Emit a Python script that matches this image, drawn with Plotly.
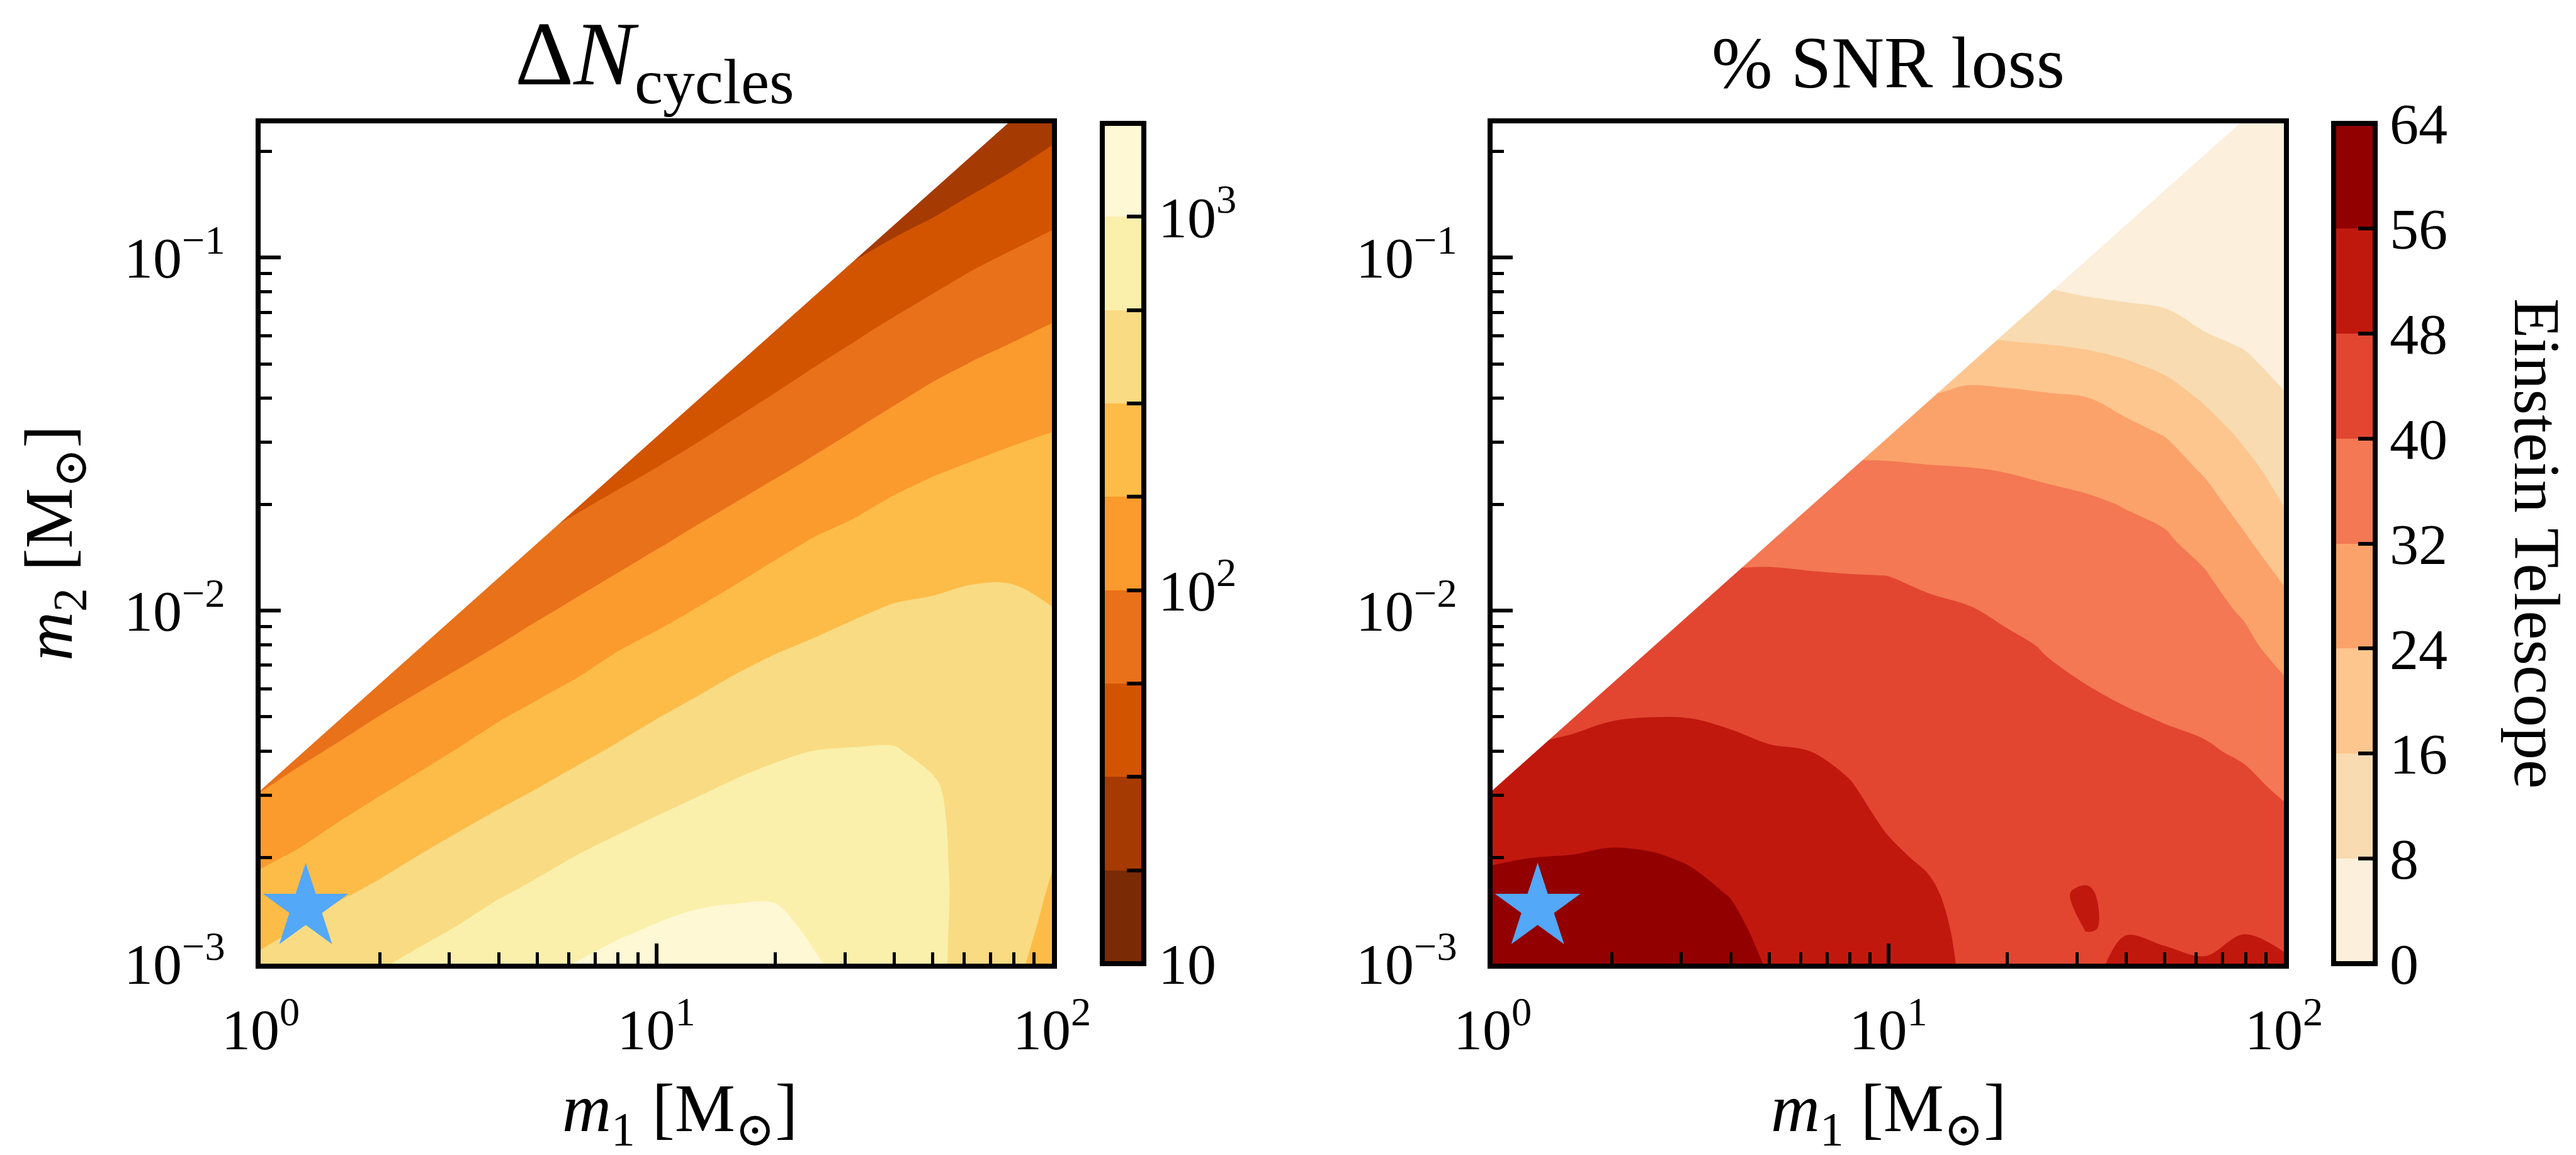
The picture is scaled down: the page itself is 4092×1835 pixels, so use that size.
import numpy as np
import plotly.graph_objects as go

# ---------------------------------------------------------------- data
# scan grid in log10 of the component masses [M_sun]
log_m1 = [0.0, 0.1, 0.2, 0.3, 0.4, 0.5, 0.6, 0.7, 0.8, 0.9, 1.0,
          1.1, 1.2, 1.3, 1.4, 1.5, 1.6, 1.7, 1.8, 1.9, 2.0]
log_m2 = [-3.0, -2.9, -2.8, -2.7, -2.6, -2.5, -2.4, -2.3, -2.2, -2.1, -2.0,
          -1.9, -1.8, -1.7, -1.6, -1.5, -1.4, -1.3, -1.2, -1.1, -1.0,
          -0.9, -0.8, -0.7, -0.6]

# log10(Delta N_cycles): one list per m1 column, starting at m2 = 1e-3
log_dn_cycles = [
    [2.542, 2.434, 2.326, 2.215, 2.100, 1.985, 1.870],
    [2.623, 2.509, 2.395, 2.282, 2.172, 2.065, 1.957, 1.849],
    [2.697, 2.586, 2.476, 2.365, 2.254, 2.144, 2.033, 1.923, 1.812],
    [2.731, 2.635, 2.540, 2.437, 2.330, 2.222, 2.112, 2.002, 1.893, 1.783],
    [2.794, 2.698, 2.603, 2.508, 2.402, 2.296, 2.187, 2.076, 1.966, 1.855, 1.745],
    [2.849, 2.759, 2.665, 2.571, 2.474, 2.368, 2.263, 2.151, 2.039, 1.927, 1.815, 1.703],
    [2.914, 2.830, 2.732, 2.634, 2.536, 2.437, 2.336, 2.234, 2.118, 2.002, 1.887, 1.771, 1.655],
    [2.957, 2.873, 2.790, 2.698, 2.597, 2.497, 2.399, 2.300, 2.194, 2.079, 1.968, 1.864, 1.760, 1.656],
    [3.006, 2.923, 2.841, 2.758, 2.660, 2.561, 2.461, 2.360, 2.260, 2.151, 2.041, 1.934, 1.829, 1.724, 1.619],
    [3.053, 2.972, 2.889, 2.806, 2.718, 2.621, 2.524, 2.428, 2.332, 2.233, 2.119, 2.006, 1.899, 1.793, 1.687, 1.582],
    [3.086, 3.012, 2.930, 2.848, 2.766, 2.677, 2.585, 2.493, 2.394, 2.295, 2.189, 2.079, 1.970, 1.863, 1.755, 1.648, 1.541],
    [3.108, 3.041, 2.964, 2.886, 2.807, 2.726, 2.639, 2.551, 2.458, 2.357, 2.257, 2.150, 2.043, 1.936, 1.828, 1.721, 1.614, 1.507],
    [3.119, 3.049, 2.979, 2.909, 2.839, 2.769, 2.688, 2.603, 2.519, 2.423, 2.324, 2.223, 2.115, 2.007, 1.902, 1.797, 1.692, 1.588, 1.483],
    [3.111, 3.046, 2.981, 2.920, 2.858, 2.796, 2.729, 2.647, 2.564, 2.480, 2.387, 2.294, 2.191, 2.080, 1.971, 1.869, 1.767, 1.665, 1.563, 1.461],
    [3.017, 2.971, 2.927, 2.884, 2.840, 2.797, 2.753, 2.678, 2.599, 2.520, 2.435, 2.347, 2.260, 2.152, 2.042, 1.938, 1.839, 1.740, 1.636, 1.532, 1.428],
    [2.940, 2.920, 2.890, 2.860, 2.830, 2.800, 2.758, 2.697, 2.626, 2.555, 2.481, 2.394, 2.307, 2.214, 2.112, 2.010, 1.911, 1.812, 1.710, 1.605, 1.490, 1.395],
    [2.880, 2.870, 2.850, 2.830, 2.810, 2.790, 2.760, 2.702, 2.640, 2.578, 2.516, 2.439, 2.357, 2.275, 2.180, 2.080, 1.980, 1.882, 1.784, 1.676, 1.563, 1.450, 1.337],
    [2.800, 2.800, 2.800, 2.790, 2.780, 2.765, 2.721, 2.672, 2.624, 2.575, 2.526, 2.465, 2.389, 2.313, 2.234, 2.140, 2.047, 1.950, 1.851, 1.748, 1.631, 1.515, 1.404, 1.288],
    [2.660, 2.670, 2.680, 2.685, 2.690, 2.685, 2.670, 2.650, 2.620, 2.580, 2.540, 2.486, 2.414, 2.342, 2.270, 2.186, 2.096, 2.007, 1.912, 1.816, 1.713, 1.595, 1.476, 1.356, 1.236],
    [2.530, 2.560, 2.580, 2.590, 2.600, 2.600, 2.600, 2.590, 2.575, 2.555, 2.530, 2.490, 2.426, 2.361, 2.297, 2.226, 2.140, 2.053, 1.964, 1.868, 1.773, 1.664, 1.551, 1.438, 1.325],
    [2.440, 2.460, 2.485, 2.510, 2.525, 2.530, 2.535, 2.535, 2.530, 2.520, 2.505, 2.462, 2.410, 2.358, 2.306, 2.254, 2.175, 2.094, 2.013, 1.920, 1.825, 1.728, 1.623, 1.519, 1.414],
]

# SNR loss [%] for the Einstein Telescope, same layout
snr_loss_pct = [
    [60.5, 59.0, 57.5, 55.6, 52.6, 49.6, 46.6],
    [61.0, 59.5, 58.0, 56.0, 53.5, 51.0, 48.5, 46.0],
    [61.5, 60.0, 58.3, 56.2, 53.8, 51.4, 49.0, 47.0, 45.4],
    [61.5, 60.0, 58.2, 56.6, 54.5, 52.2, 49.9, 47.7, 46.0, 44.3],
    [61.0, 59.6, 58.0, 56.4, 54.1, 52.0, 49.9, 47.96, 46.2, 44.4, 42.6],
    [60.0, 58.6, 57.2, 55.6, 53.6, 51.7, 49.8, 47.9, 46.1, 44.3, 42.5, 40.7],
    [58.4, 57.2, 55.8, 54.0, 52.2, 50.5, 48.9, 47.5, 45.7, 43.9, 42.1, 40.4, 38.6],
    [55.5, 54.5, 53.3, 52.0, 50.6, 49.3, 48.3, 46.9, 45.3, 43.6, 42.0, 40.4, 38.7, 37.0],
    [54.0, 53.0, 51.9, 50.7, 49.6, 48.6, 48.05, 46.5, 44.9, 43.4, 41.9, 40.3, 38.0, 35.4, 32.8],
    [52.4, 51.5, 50.6, 49.7, 48.9, 48.3, 47.1, 45.7, 44.3, 42.9, 41.5, 40.1, 37.7, 35.2, 32.7, 30.2],
    [50.2, 49.6, 49.0, 48.5, 47.7, 46.6, 45.5, 44.4, 43.3, 42.2, 41.1, 39.97, 37.5, 35.1, 32.6, 30.1, 27.0],
    [49.2, 48.9, 48.5, 47.6, 46.6, 45.6, 44.6, 43.6, 42.7, 41.7, 40.7, 39.3, 37.1, 34.8, 32.5, 28.8, 24.6, 20.5],
    [47.5, 47.3, 46.8, 46.0, 45.2, 44.4, 43.6, 42.8, 42.0, 41.1, 40.3, 38.4, 36.3, 34.3, 32.2, 29.0, 25.8, 21.1, 14.7],
    [46.0, 45.8, 45.4, 44.8, 44.1, 43.5, 42.8, 42.1, 41.4, 40.7, 39.3, 37.4, 35.6, 33.7, 31.8, 28.7, 25.6, 20.4, 13.5, 7.5],
    [44.6, 44.8, 46.5, 44.0, 43.4, 42.7, 42.0, 41.3, 40.6, 39.75, 38.1, 36.5, 34.9, 33.2, 31.2, 28.1, 25.0, 19.3, 13.2, 8.6, 3.0],
    [46.0, 48.2, 49.0, 44.5, 43.6, 42.8, 42.0, 41.2, 39.9, 38.5, 37.0, 35.6, 34.2, 32.7, 30.5, 27.4, 24.3, 18.3, 12.4, 7.5, 4.5, 3.5],
    [50.0, 47.5, 44.5, 43.5, 42.5, 41.7, 40.9, 40.4, 39.0, 37.6, 36.2, 34.8, 33.3, 31.8, 28.8, 25.8, 22.0, 16.6, 11.6, 6.7, 4.2, 3.2, 2.5],
    [49.5, 46.5, 44.5, 43.3, 42.4, 41.7, 41.1, 39.7, 38.3, 36.9, 35.5, 34.1, 32.7, 30.4, 27.1, 23.7, 19.0, 14.5, 10.3, 6.2, 4.0, 3.0, 2.4, 2.0],
    [48.6, 45.8, 44.3, 43.2, 42.4, 41.6, 40.6, 38.9, 37.3, 35.7, 34.1, 32.5, 29.8, 26.6, 23.2, 19.2, 15.3, 11.4, 7.6, 5.0, 3.8, 3.0, 2.4, 2.0, 1.7],
    [50.0, 47.6, 45.5, 43.9, 42.7, 41.3, 39.3, 37.4, 35.5, 33.5, 31.3, 28.1, 24.8, 21.4, 18.0, 14.8, 11.8, 8.9, 6.5, 5.0, 4.0, 3.3, 2.7, 2.2, 1.8],
    [49.0, 46.0, 44.6, 43.5, 41.3, 39.1, 36.9, 34.7, 32.5, 29.5, 26.3, 23.0, 19.4, 15.8, 13.3, 10.9, 8.5, 6.4, 5.2, 4.4, 3.8, 3.2, 2.7, 2.3, 2.0],
]

# the scanned region is bounded by m2 / m1 <= Q_MAX
Q_MAX = 3.1e-3

# reference binary marked with a star
star_m1 = [1.3]
star_m2 = [1.44e-3]

# contour levels and band colours (lowest band first)
dn_levels = dict(start=1.0, end=3.25, size=0.25)
dn_colors = ["#7A2B05", "#A63A03", "#D25400", "#E8711A", "#FB9A2D",
             "#FDBC48", "#F8DB83", "#FAF0AB", "#FFF8D4"]
dn_tickvals = [1.0, 1.25, 1.5, 1.75, 2.0, 2.25, 2.5, 2.75, 3.0, 3.25]
dn_ticktext = ["10", "", "", "", "10<sup>2</sup>", "", "", "", "10<sup>3</sup>", ""]

snr_levels = dict(start=0, end=64, size=8)
snr_colors = ["#FCEFDB", "#F8DBB0", "#FDC68F", "#FBA26A", "#F37853",
              "#E24631", "#C1180E", "#920000"]
snr_tickvals = [0, 8, 16, 24, 32, 40, 48, 56, 64]
snr_ticktext = ["0", "8", "16", "24", "32", "40", "48", "56", "64"]

x_tickvals = [1, 10, 100]
x_ticktext = ["10<sup>0</sup>", "10<sup>1</sup>", "10<sup>2</sup>"]
y_tickvals = [1e-3, 1e-2, 1e-1]
y_ticktext = ["10<sup>\u22123</sup>", "10<sup>\u22122</sup>", "10<sup>\u22121</sup>"]

# ---------------------------------------------------------------- helpers
W, H = 4092, 1835
FONT = "Liberation Serif, DejaVu Serif, serif"
TICK_SIZE = 92


def to_grid(columns, n_rows):
    """columns (one per m1) -> z[row][col], unscanned cells left empty"""
    return [[col[j] if j < len(col) else None for col in columns]
            for j in range(n_rows)]


def contour_scale(colors):
    """piecewise-constant colorscale so that each contour band gets its colour"""
    nc = len(colors) + 1
    edges = [0.0] + [(k + 1.5) / nc for k in range(len(colors) - 1)] + [1.0]
    scale = []
    for k, c in enumerate(colors):
        scale.append([edges[k], c])
        scale.append([edges[k + 1], c])
    return scale


def bar_scale(colors):
    """same bands laid out evenly between the first and last level"""
    nb = len(colors)
    scale = []
    for k, c in enumerate(colors):
        scale.append([k / nb, c])
        scale.append([(k + 1) / nb, c])
    return scale


def px_x(p):
    return p / W


def px_y(p):
    return 1 - p / H


x_m1 = [10 ** v for v in log_m1]
y_m2 = [10 ** v for v in log_m2]
Y_LOG_RANGE = [-3.0, -0.62]

plot_top, plot_bottom = 196, 1531
left_x = (414, 1671)
right_x = (2371, 3628)
cb_len = (plot_bottom - plot_top) / H
cb_y = (px_y(plot_top) + px_y(plot_bottom)) / 2

colorbar_common = dict(
    thickness=66, thicknessmode="pixels",
    len=cb_len, lenmode="fraction", y=cb_y, yanchor="middle",
    xanchor="left", xpad=0, ypad=0,
    outlinewidth=8, outlinecolor="black",
    ticks="inside", ticklen=31, tickwidth=6, tickcolor="black",
    tickfont=dict(family=FONT, size=TICK_SIZE, color="black"),
    tickmode="array",
)

fig = go.Figure()

panels = [
    dict(z=log_dn_cycles, levels=dn_levels, colors=dn_colors,
         tickvals=dn_tickvals, ticktext=dn_ticktext, cb_x=1751, xa="x", ya="y"),
    dict(z=snr_loss_pct, levels=snr_levels, colors=snr_colors,
         tickvals=snr_tickvals, ticktext=snr_ticktext, cb_x=3707, xa="x2", ya="y2"),
]

x_lo, y_hi = 0.5, 1.0
for p in panels:
    fig.add_trace(go.Contour(
        x=x_m1, y=y_m2, z=to_grid(p["z"], len(log_m2)),
        contours=dict(coloring="fill", showlines=False, **p["levels"]),
        line=dict(width=0), colorscale=contour_scale(p["colors"]),
        showscale=False, hoverinfo="skip", xaxis=p["xa"], yaxis=p["ya"],
    ))
    # blank out the unscanned wedge above m2 = Q_MAX * m1
    fig.add_trace(go.Scatter(
        x=[x_lo, y_hi / Q_MAX, x_lo, x_lo],
        y=[Q_MAX * x_lo, y_hi, y_hi, Q_MAX * x_lo],
        mode="lines", fill="toself", fillcolor="white", line=dict(width=0),
        hoverinfo="skip", showlegend=False, xaxis=p["xa"], yaxis=p["ya"],
    ))
    # invisible point that carries the discrete colour bar of the panel
    lv = p["levels"]
    fig.add_trace(go.Scatter(
        x=star_m1, y=star_m2, mode="markers",
        marker=dict(size=1, opacity=0, color=[lv["start"]],
                    cmin=lv["start"], cmax=lv["end"],
                    colorscale=bar_scale(p["colors"]), showscale=True,
                    colorbar=dict(x=px_x(p["cb_x"]), tickvals=p["tickvals"],
                                  ticktext=p["ticktext"], **colorbar_common)),
        hoverinfo="skip", showlegend=False, xaxis=p["xa"], yaxis=p["ya"],
    ))
    # star marker
    fig.add_trace(go.Scatter(
        x=star_m1, y=star_m2, mode="markers",
        marker=dict(symbol="star", size=102, color="#53A8F8", line=dict(width=0)),
        cliponaxis=False, hoverinfo="skip", showlegend=False,
        xaxis=p["xa"], yaxis=p["ya"],
    ))

axis_common = dict(
    type="log", showgrid=False, zeroline=False, automargin=False,
    showline=True, linewidth=8, linecolor="black", mirror=True,
    ticks="inside", ticklen=32, tickwidth=6, tickcolor="black",
    tickfont=dict(family=FONT, size=TICK_SIZE, color="black"),
    tickmode="array",
)
minor_x = dict(ticks="inside", ticklen=18, tickwidth=5, tickcolor="black",
               tickvals=[k * 10 ** d for d in (0, 1) for k in range(2, 10)])
minor_y = dict(ticks="inside", ticklen=18, tickwidth=5, tickcolor="black",
               tickvals=[k * 10 ** d for d in (-3, -2, -1) for k in range(2, 10)])

fig.update_layout(
    width=W, height=H,
    margin=dict(l=0, r=0, t=0, b=0, pad=0, autoexpand=False),
    paper_bgcolor="white", plot_bgcolor="white", showlegend=False,
    xaxis=dict(domain=[px_x(left_x[0]), px_x(left_x[1])], range=[0, 2],
               tickvals=x_tickvals, ticktext=x_ticktext, minor=minor_x,
               anchor="y", ticklabelstandoff=18, **axis_common),
    yaxis=dict(domain=[px_y(plot_bottom), px_y(plot_top)], range=Y_LOG_RANGE,
               tickvals=y_tickvals, ticktext=y_ticktext, minor=minor_y,
               anchor="x", ticklabelstandoff=30, **axis_common),
    xaxis2=dict(domain=[px_x(right_x[0]), px_x(right_x[1])], range=[0, 2],
                tickvals=x_tickvals, ticktext=x_ticktext, minor=minor_x,
                anchor="y2", ticklabelstandoff=18, **axis_common),
    yaxis2=dict(domain=[px_y(plot_bottom), px_y(plot_top)], range=Y_LOG_RANGE,
                tickvals=y_tickvals, ticktext=y_ticktext, minor=minor_y,
                anchor="x2", ticklabelstandoff=30, **axis_common),
)

mass_label = "<i>m</i><sub>{}</sub> [M<sub>\u2299</sub>]"
annotations = [
    dict(text="\u0394<i>N</i><sub>cycles</sub>", x=px_x(1040), y=px_y(96),
         font=dict(size=145)),
    dict(text="% SNR loss", x=px_x(sum(right_x) / 2), y=px_y(100),
         font=dict(size=116)),
    dict(text=mass_label.format(1), x=px_x(1080), y=px_y(1768),
         font=dict(size=108)),
    dict(text=mass_label.format(1), x=px_x(sum(right_x) / 2), y=px_y(1768),
         font=dict(size=108)),
    dict(text=mass_label.format(2), x=px_x(86), y=px_y(863), textangle=-90,
         font=dict(size=108)),
    dict(text="Einstein Telescope", x=px_x(4030), y=px_y(863), textangle=90,
         font=dict(size=104)),
]
for a in annotations:
    a.update(xref="paper", yref="paper", showarrow=False,
             xanchor="center", yanchor="middle")
    a["font"].update(family=FONT, color="black")
fig.update_layout(annotations=annotations)

fig.write_html("out.html")
